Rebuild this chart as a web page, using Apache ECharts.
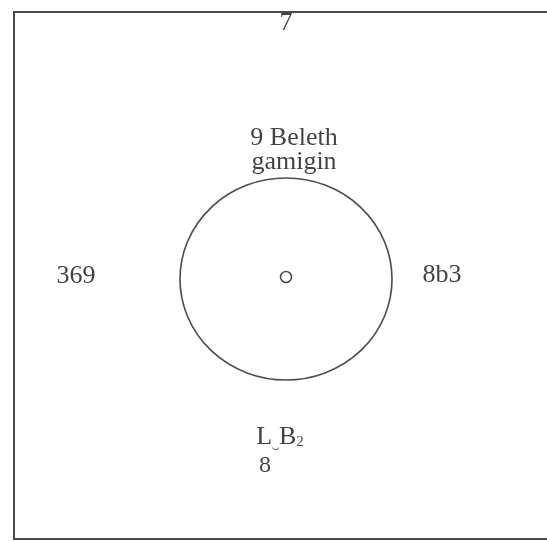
<!DOCTYPE html>
<html>
<head>
<meta charset="utf-8">
<script src="https://cdn.jsdelivr.net/npm/echarts@6/dist/echarts.min.js"></script>
<style>
  html, body { margin: 0; padding: 0; background: #fff; }
  #main { width: 547px; height: 541px; }
</style>
</head>
<body>
<div id="main"></div>
<script>
// diagram coordinates, measured inside the frame
const labelNames = ['7', '9 Beleth\ngamigin', '369', '8b3', 'LB8'];
const labelX = [272, 280, 62, 428, 266];
const labelY = [11, 138, 264, 263, 441];
const ringX = [272, 272];
const ringY = [267, 265];
const ringW = [212, 11];
const ringH = [202, 11];

const chart = echarts.init(document.getElementById('main'));

const serif = '"Liberation Serif", "Times New Roman", serif';
const ink = '#111';

chart.setOption({
  animation: false,
  grid: {
    left: 14,
    top: 12,
    width: 541,
    height: 527,
    outerBoundsMode: 'none',
    containLabel: false,
    show: true,
    borderColor: '#4a4a4a',
    borderWidth: 2,
    backgroundColor: '#fff',
  },
  xAxis: { type: 'value', min: 0, max: 541, show: false },
  yAxis: { type: 'value', min: 0, max: 527, inverse: true, show: false },
  series: [
    {
      name: 'rings',
      type: 'scatter',
      symbol: 'circle',
      data: ringX.map((x, i) => ({ value: [x, ringY[i]], symbolSize: [ringW[i], ringH[i]] })),
      itemStyle: { color: 'rgba(0,0,0,0)', borderColor: '#222', borderWidth: 1.6 },
      silent: true,
    },
    {
      name: 'labels',
      type: 'scatter',
      symbolSize: 0,
      silent: true,
      data: labelNames.map((n, i) => ({ name: n, value: [labelX[i], labelY[i]] })),
      label: {
        show: true,
        position: 'inside',
        color: ink,
        fontFamily: serif,
        fontSize: 26,
        lineHeight: 24,
        formatter(p) {
          if (p.name === 'LB8') {
            return '{b|L}{t|‿}{b|B}{s|2}\n{e|8}';
          }
          return p.name;
        },
        rich: {
          b: { fontFamily: serif, fontSize: 26, color: ink, lineHeight: 26 },
          t: { fontFamily: '"DejaVu Serif", serif', fontSize: 12, color: ink, verticalAlign: 'bottom', lineHeight: 26 },
          s: { fontFamily: serif, fontSize: 15, color: ink, verticalAlign: 'bottom', lineHeight: 26 },
          e: { fontFamily: serif, fontSize: 24, color: ink, lineHeight: 32, padding: [0, 30, 0, 0] },
        },
      },
    },
  ],
});
</script>
</body>
</html>
